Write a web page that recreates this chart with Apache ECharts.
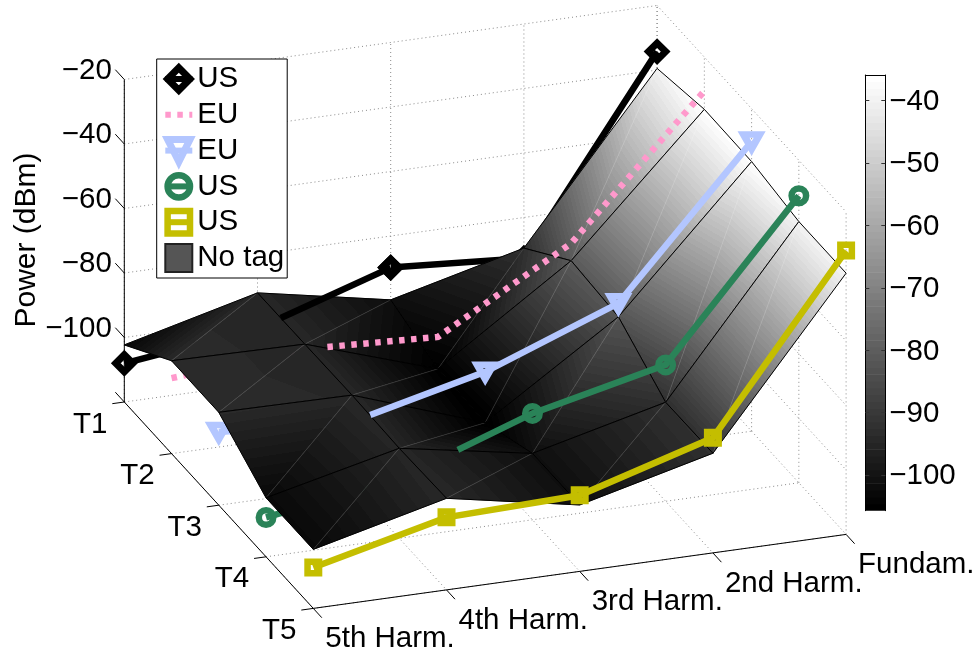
<!DOCTYPE html>
<html>
<head>
<meta charset="utf-8">
<style>html,body{margin:0;padding:0;background:#fff}#c{width:979px;height:654px}</style>
<script src="https://cdn.jsdelivr.net/npm/echarts@6/dist/echarts.min.js"></script>
</head>
<body>
<div id="c"></div>
<script>
// ---- data ----
const harmonicLabels = ['5th Harm.', '4th Harm.', '3rd Harm.', '2nd Harm.', 'Fundam.'];
const timeLabels = ['T1', 'T2', 'T3', 'T4', 'T5'];
const powerTicks = [-100, -80, -60, -40, -20];
const colorbarTicks = [-100, -90, -80, -70, -60, -50, -40];
const colorMin = -105.7;
const colorMax = -35.9;

const surfaceT1 = [-102.3, -91.9, -99.8, -89.5, -39.5];
const surfaceT2 = [-91.2, -91.8, -105.2, -77.4, -36.2];
const surfaceT3 = [-91.2, -91.6, -105.9, -78.8, -36.4];
const surfaceT4 = [-101.7, -92.1, -99.4, -89.3, -39.0];
const surfaceT5 = [-101.7, -91.6, -99.4, -89.1, -39.0];

const lineT1 = [-108.0, -103.0, -89.8, -92.6, -34.3];
const lineT2 = [-96.6, -93.3, -95.3, -72.0, -30.5];
const lineT3 = [-97.3, -99.9, -90.1, -74.6, -30.2];
const lineT4 = [-107.8, -101.5, -87.0, -77.7, -31.0];
const lineT5 = [-107.3, -97.5, -96.4, -84.3, -32.0];
const lineNames = ['US T1', 'EU T2', 'EU T3', 'US T4', 'US T5'];
// harmonic-index range over which each line shows in front of the surface
const frontFrom = [1.175, 1.17, 1.137, 1.44, 0];
const frontTo = [2, 4, 4, 4, 4];

// ---- 3D view (orthographic) ----
const view = { x0: 124.3, y0: 402, hx: 133.2, hy: -18.5, tx: 47.25, ty: 51.6, zy: 3.225, zBase: -120 };
function project(h, t, z) {
  return [view.x0 + view.hx * h + view.tx * t,
          view.y0 + view.hy * h + view.ty * t - view.zy * (z - view.zBase)];
}
const surface = [surfaceT1, surfaceT2, surfaceT3, surfaceT4, surfaceT5];
const lines = [lineT1, lineT2, lineT3, lineT4, lineT5];
const FONT = '29.5px "Liberation Sans", Arial, sans-serif';

function gray(i) { const v = Math.round(i / 63 * 255); return 'rgb(' + v + ',' + v + ',' + v + ')'; }
function surfGray(i) { const v = Math.round(Math.pow(i / 63, 1.15) * 255); return 'rgb(' + v + ',' + v + ',' + v + ')'; }
function levelOf(z) {
  return Math.max(0, Math.min(63, Math.floor((z - colorMin) / (colorMax - colorMin) * 64)));
}

// banded linear gradient: colour is linear in screen position over one triangle
function triangleFill(p, z) {
  const d = (p[1][0]-p[0][0])*(p[2][1]-p[0][1]) - (p[2][0]-p[0][0])*(p[1][1]-p[0][1]);
  const zmin = Math.min(z[0], z[1], z[2]), zmax = Math.max(z[0], z[1], z[2]);
  if (Math.abs(d) < 1e-6 || zmax - zmin < 1e-6) return surfGray(levelOf(zmin));
  const gx = ((z[1]-z[0])*(p[2][1]-p[0][1]) - (z[2]-z[0])*(p[1][1]-p[0][1])) / d;
  const gy = ((z[2]-z[0])*(p[1][0]-p[0][0]) - (z[1]-z[0])*(p[2][0]-p[0][0])) / d;
  const g2 = gx*gx + gy*gy;
  const k = z.indexOf(zmin);
  const x0 = p[k][0], y0 = p[k][1];
  const dz = zmax - zmin;
  const x1 = x0 + gx/g2*dz, y1 = y0 + gy/g2*dz;
  const stops = [];
  const step = (colorMax - colorMin) / 64;
  for (let i = levelOf(zmin); i <= levelOf(zmax); i++) {
    const a = Math.max(0, (colorMin + i*step - zmin)/dz);
    const b = Math.min(1, (colorMin + (i+1)*step - zmin)/dz);
    stops.push({offset: a, color: surfGray(i)}, {offset: b, color: surfGray(i)});
  }
  return new echarts.graphic.LinearGradient(x0, y0, x1, y1, stops, true);
}

// quads painted back to front
const quads = [];
for (let t = 0; t < 4; t++) for (let h = 3; h >= 0; h--) quads.push([t, h]);

function renderQuad(params, api) {
  const t = api.value(0), h = api.value(1);
  const idx = [[h,t],[h+1,t],[h+1,t+1],[h,t+1]];
  const zs = idx.map(a => surface[a[1]][a[0]]);
  const px = idx.map((a,i) => { return api.coord(project(a[0], a[1], zs[i])); });
  const tri = (a,b,c) => {
    const pts = [px[a],px[b],px[c]];
    const fill = triangleFill(pts, [zs[a],zs[b],zs[c]]);
    return {type:'polygon', shape:{points:pts}, style:{fill:fill, stroke:fill, lineWidth:0.6}};
  };
  const seg = (a,b,color,w) => ({type:'line', shape:{x1:px[a][0],y1:px[a][1],x2:px[b][0],y2:px[b][1]},
                                 style:{stroke:color, lineWidth:w, fill:null}});
  return {type:'group', children:[
    tri(0,1,3), tri(1,2,3),
    seg(1,3,'rgba(255,255,255,0.2)',0.6),
    seg(0,1,'#000',1), seg(1,2,'#000',1), seg(2,3,'#000',1), seg(3,0,'#000',1)
  ]};
}

// ---- box, grids, axes ----
const framePts = [];   // dotted
const axisPts = [];    // solid
function addSeg(list, a, b) { const p = project(a[0],a[1],a[2]), q = project(b[0],b[1],b[2]); list.push([p[0],p[1],q[0],q[1]]); }
const zLo = -120, zHi = -20;
harmonicLabels.forEach((_, h) => {
  addSeg(framePts, [h,0,zLo],[h,4,zLo]);
  addSeg(framePts, [h,0,zLo],[h,0,zHi]);
});
timeLabels.forEach((_, t) => {
  addSeg(framePts, [0,t,zLo],[4,t,zLo]);
  addSeg(framePts, [4,t,zLo],[4,t,zHi]);
});
powerTicks.forEach(z => {
  addSeg(framePts, [0,0,z],[4,0,z]);
  addSeg(framePts, [4,0,z],[4,4,z]);
});
addSeg(axisPts, [0,0,zLo],[0,0,zHi]);
addSeg(axisPts, [0,0,zLo],[0,4,zLo]);
addSeg(axisPts, [0,4,zLo],[4,4,zLo]);
[-120].concat(powerTicks).forEach(z => addSeg(axisPts, [0,0,z],[0,-0.19,z]));
timeLabels.forEach((_, t) => addSeg(axisPts, [0,t,zLo],[-0.09,t,zLo]));
harmonicLabels.forEach((_, h) => addSeg(axisPts, [h,4,zLo],[h,4.18,zLo]));

function segSeries(data, color, dash, w, z) {
  return {type:'custom', coordinateSystem:'cartesian2d', xAxisIndex:0, yAxisIndex:0, silent:true, z:z, clip:false,
    data:data,
    renderItem:(p,api)=>{ const a=api.coord([api.value(0),api.value(1)]), b=api.coord([api.value(2),api.value(3)]);
      return {type:'line', shape:{x1:a[0],y1:a[1],x2:b[0],y2:b[1]}, style:{stroke:color, lineWidth:w, lineDash:dash, fill:null}}; }};
}

function textSeries(items) {
  return {type:'custom', coordinateSystem:'cartesian2d', xAxisIndex:0, yAxisIndex:0, silent:true, z:6, clip:false,
    data: items.map(i=>[i.x,i.y]),
    renderItem:(p,api)=>{ const c=api.coord([api.value(0),api.value(1)]), it=items[p.dataIndex];
      return {type:'text', x:c[0], y:c[1], style:{text:it.text, font:FONT, fill:'#000', align:it.align, verticalAlign:'middle'}}; }};
}
const labelItems = [];
powerTicks.forEach(z => { const p = project(0,0,z);
  labelItems.push({x:p[0]-12.5, y:p[1]-9, text:'\u2212'+Math.abs(z), align:'right'}); });
timeLabels.forEach((s,t) => { const p = project(0,t,zLo);
  labelItems.push({x:p[0]-34, y:p[1]+22.5, text:s, align:'center'}); });
harmonicLabels.forEach((s,h) => { const p = project(h,4,zLo);
  labelItems.push({x:p[0]+12, y:p[1]+30.5, text:s, align:'left'}); });

// ---- line series ----
const styles = [
  {color:'#000000', symbol:'diamond', size:17, border:7, legendSize:21},
  {color:'#FF99CC', symbol:'none', size:0, border:0, dash:[5.5,6.5], legendSize:0},
  {color:'#B3C6FF', symbol:'triangle', size:[16,14], border:7, rotate:180, legendSize:16},
  {color:'#2A8358', symbol:'circle', size:14.5, border:6.5, legendSize:14.5},
  {color:'#C4BE00', symbol:'rect', size:11.5, border:6.5, legendSize:11.5}
];
function valueAt(vals, h) {
  const i = Math.min(vals.length-2, Math.floor(h)), f = h - i;
  return vals[i] + (vals[i+1]-vals[i])*f;
}
function points(li, a, b) {
  const vals = lines[li], t = li, out = [];
  const push = (h) => {
    const isNode = Number.isInteger(h);
    const p = project(h, t, valueAt(vals, h));
    out.push(isNode ? {value:p} : {value:p, symbol:'none'});
  };
  if (!Number.isInteger(a)) push(a);
  for (let h = Math.ceil(a); h <= b; h++) push(h);
  if (!Number.isInteger(b)) push(b);
  return out;
}
function lineSeries(name, li, data, z) {
  const s = styles[li];
  return {type:'line', name:name, coordinateSystem:'cartesian2d', xAxisIndex:0, yAxisIndex:0, z:z, silent:true, clip:false,
    data:data, symbol:s.symbol, symbolSize:s.size, symbolRotate:s.rotate||0, showSymbol:s.symbol!=='none', showAllSymbol:true,
    lineStyle:{color:s.color, width:6.5, type:s.dash||'solid', cap:'butt', join:'miter'},
    itemStyle:{color:'rgba(255,255,255,0)', borderColor:s.color, borderWidth:s.border},
    emphasis:{disabled:true}, connectNulls:false};
}
const lineLayers = [];
lineNames.forEach((name, li) => {
  const from = frontFrom[li], to = frontTo[li];
  let back = [];
  if (from > 0) back = back.concat(points(li, 0, from));
  if (to < 4) { back.push({value:[0,'-']}); back = back.concat(points(li, to, 4)); }
  if (back.length) lineLayers.push(lineSeries(name+' back', li, back, 2));
  lineLayers.push(lineSeries(name, li, points(li, from, to), 5));
});

// ---- colour bar ----
const barLevels = []; for (let i = 0; i < 64; i++) barLevels.push([0, i]);
const barSeries = {type:'custom', coordinateSystem:'cartesian2d', xAxisIndex:1, yAxisIndex:1, silent:true, z:2,
  data:barLevels, clip:true,
  renderItem:(p,api)=>{ const i=api.value(1), step=(colorMax-colorMin)/64;
    const a=api.coord([0,colorMin+i*step]), b=api.coord([1,colorMin+(i+1)*step]);
    return {type:'rect', shape:{x:a[0], y:b[1]-0.3, width:b[0]-a[0], height:a[1]-b[1]+0.6}, style:{fill:gray(i)}}; }};
const barLabelSeries = {type:'custom', coordinateSystem:'cartesian2d', xAxisIndex:1, yAxisIndex:1, silent:true, z:6, clip:false,
  data:colorbarTicks.map(v=>[1,v]),
  renderItem:(p,api)=>{ const c=api.coord([1,api.value(1)]);
    return {type:'text', x:c[0]+4, y:c[1]+1.2, style:{text:'\u2212'+Math.abs(api.value(1)), font:FONT, fill:'#000', align:'left', verticalAlign:'middle'}}; }};

const barTick = {show:true, inside:true, length:4, lineStyle:{color:'#333', width:1}, customValues:colorbarTicks};

const legendItems = lineNames.map((n,i)=>({name:n,
  symbolSize:styles[i].legendSize,
  itemStyle:{borderWidth:styles[i].border},
  lineStyle:{width:6}}));

const chart = echarts.init(document.getElementById('c'), null, {renderer:'canvas'});
chart.setOption({
  animation:false,
  backgroundColor:'#fff',
  grid:[
    {left:0, top:0, width:979, height:654, containLabel:false},
    {left:865.3, top:75, width:20, height:435.7, containLabel:false}
  ],
  xAxis:[
    {type:'value', gridIndex:0, min:0, max:979, show:false},
    {type:'value', gridIndex:1, min:0, max:1, position:'top', axisLabel:{show:false}, axisTick:{show:false}, splitLine:{show:false},
     axisLine:{show:true, onZero:false, lineStyle:{color:'#000', width:1}}, z:6}
  ],
  yAxis:[
    {type:'value', gridIndex:0, min:0, max:654, inverse:true, show:false},
    {type:'value', gridIndex:1, min:colorMin, max:colorMax, position:'right', splitLine:{show:false}, axisLabel:{show:false}, axisTick:barTick,
     axisLine:{show:true, onZero:false, lineStyle:{color:'#000', width:1}}, z:6},
    {type:'value', gridIndex:1, min:colorMin, max:colorMax, position:'left', splitLine:{show:false}, axisLabel:{show:false}, axisTick:barTick,
     axisLine:{show:true, onZero:false, lineStyle:{color:'#000', width:1}}, z:6}
  ],
  legend:{
    orient:'vertical', left:156.7, top:59, padding:[5,3,5,5.6], itemWidth:27, itemHeight:28, itemGap:5.8, z:10,
    backgroundColor:'#fff', borderColor:'#000', borderWidth:1, selectedMode:false,
    textStyle:{fontFamily:'Liberation Sans', fontSize:29.5, color:'#000', lineHeight:28},
    formatter:n=>n.split(' T')[0],
    data:legendItems.concat([{name:'No tag', icon:'rect'}])
  },
  graphic:[{type:'text', x:27, y:240, rotation:Math.PI/2, silent:true,
    style:{text:'Power (dBm)', font:'30px "Liberation Sans", Arial, sans-serif', fill:'#000', align:'center', verticalAlign:'middle'}}],
  series:[
    segSeries(framePts, '#8a8a8a', [1,3], 1, 1),
    segSeries(axisPts, '#000', null, 1, 1),
    textSeries(labelItems)
  ].concat(lineLayers).concat([
    {type:'custom', name:'No tag', coordinateSystem:'cartesian2d', xAxisIndex:0, yAxisIndex:0, z:3, silent:true, clip:false,
     data:quads, renderItem:renderQuad, itemStyle:{color:'#555555', borderColor:'#222', borderWidth:1}},
    barSeries,
    barLabelSeries
  ])
});
</script>
</body>
</html>
